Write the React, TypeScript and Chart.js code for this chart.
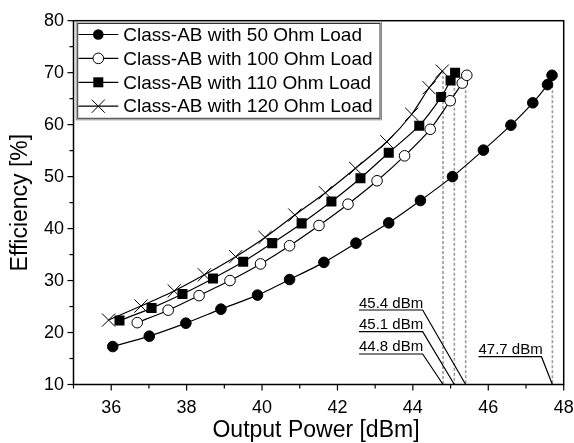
import React, { useEffect, useRef } from 'react';
import { Chart, registerables } from 'chart.js';

Chart.register(...registerables);

const FONT = '"Liberation Sans", Arial, Helvetica, sans-serif';

const seriesNames = [
  'Class-AB with 50 Ohm Load',
  'Class-AB with 100 Ohm Load',
  'Class-AB with 110 Ohm Load',
  'Class-AB with 120 Ohm Load',
];

const pout50 = [36.04, 37.01, 37.98, 38.91, 39.88, 40.73, 41.64, 42.49, 43.36, 44.2, 45.05, 45.87, 46.6, 47.18, 47.57, 47.69];
const eff50 = [17.3, 19.3, 21.8, 24.5, 27.2, 30.2, 33.5, 37.2, 41.1, 45.4, 50.0, 55.1, 59.9, 64.2, 67.7, 69.5];

const pout100 = [36.69, 37.51, 38.33, 39.15, 39.96, 40.73, 41.51, 42.28, 43.05, 43.78, 44.46, 44.99, 45.31, 45.43];
const eff100 = [21.9, 24.3, 27.1, 30.0, 33.2, 36.7, 40.6, 44.7, 49.2, 54.0, 59.1, 64.6, 68.0, 69.5];

const pout110 = [36.22, 37.07, 37.89, 38.7, 39.5, 40.27, 41.05, 41.84, 42.61, 43.36, 44.17, 44.75, 45.0, 45.12];
const eff110 = [22.3, 24.7, 27.4, 30.4, 33.6, 37.2, 41.0, 45.2, 49.7, 54.6, 59.8, 65.3, 68.5, 70.0];

const pout120 = [35.93, 36.79, 37.67, 38.47, 39.3, 40.08, 40.87, 41.68, 42.48, 43.31, 43.97, 44.43, 44.78];
const eff120 = [22.4, 25.1, 28.0, 31.1, 34.6, 38.3, 42.6, 46.9, 51.6, 56.7, 62.0, 67.1, 70.3];

// saturated output power annotations
const satPower = [44.8, 45.1, 45.4, 47.7];
const satTopEff = [70.3, 70.0, 69.5, 69.5];
const satLabels = ['44.8 dBm', '45.1 dBm', '45.4 dBm', '47.7 dBm'];
// label shelf positions (data units): start x, end x, shelf y
const shelfStart = [42.57, 42.57, 42.57, 45.74];
const shelfEnd = [44.26, 44.26, 44.26, 47.41];
const shelfEff = [15.87, 20.16, 24.33, 15.35];

const xMin = 35;
const xMax = 48;
const yMin = 10;
const yMax = 80;
const xTickLabels = [36, 38, 40, 42, 44, 46, 48];
const yTickLabels = [10, 20, 30, 40, 50, 60, 70, 80];

const xTitle = 'Output Power [dBm]';
const yTitle = 'Efficiency [%]';

const toPts = (xs: number[], ys: number[]) => xs.map((x, i) => ({ x, y: ys[i] }));

type Marker = 'fillCircle' | 'openCircle' | 'square' | 'cross';
const markers: Marker[] = ['fillCircle', 'openCircle', 'square', 'cross'];

function drawMarker(ctx: CanvasRenderingContext2D, m: Marker, x: number, y: number) {
  ctx.save();
  ctx.strokeStyle = '#000';
  ctx.fillStyle = '#000';
  ctx.lineWidth = 1;
  if (m === 'fillCircle') {
    ctx.beginPath();
    ctx.arc(x, y, 5.3, 0, Math.PI * 2);
    ctx.fill();
  } else if (m === 'openCircle') {
    ctx.beginPath();
    ctx.arc(x, y, 5.3, 0, Math.PI * 2);
    ctx.fillStyle = '#fff';
    ctx.fill();
    ctx.stroke();
  } else if (m === 'square') {
    ctx.fillRect(x - 5, y - 5, 10, 10);
  } else {
    const d = 6.6;
    ctx.beginPath();
    ctx.moveTo(x - d, y - d);
    ctx.lineTo(x + d, y + d);
    ctx.moveTo(x - d, y + d);
    ctx.lineTo(x + d, y - d);
    ctx.stroke();
  }
  ctx.restore();
}

const framePlugin = {
  id: 'frameAndExtras',
  beforeDatasetsDraw(chart: any) {
    const { ctx, scales } = chart;
    const xs = scales.x;
    const ys = scales.y;
    ctx.save();
    ctx.strokeStyle = '#9a9a9a';
    ctx.lineWidth = 1.6;
    ctx.setLineDash([3, 2]);
    satPower.forEach((p, i) => {
      const px = xs.getPixelForValue(p);
      ctx.beginPath();
      ctx.moveTo(px, ys.getPixelForValue(satTopEff[i]));
      ctx.lineTo(px, ys.getPixelForValue(yMin));
      ctx.stroke();
    });
    ctx.restore();
  },
  afterDraw(chart: any) {
    const { ctx, chartArea, scales } = chart;
    const xs = scales.x;
    const ys = scales.y;
    const { left, right, top, bottom } = chartArea;
    ctx.save();
    // frame
    ctx.strokeStyle = '#000';
    ctx.lineWidth = 1.5;
    ctx.strokeRect(left, top, right - left, bottom - top);
    // ticks
    ctx.lineWidth = 1.2;
    for (let v = xMin; v <= xMax; v += 1) {
      const px = xs.getPixelForValue(v);
      const len = v % 2 === 0 ? 6 : 4;
      ctx.beginPath();
      ctx.moveTo(px, bottom);
      ctx.lineTo(px, bottom + len);
      ctx.stroke();
    }
    for (let v = yMin; v <= yMax; v += 5) {
      const py = ys.getPixelForValue(v);
      const len = v % 10 === 0 ? 6 : 4;
      ctx.beginPath();
      ctx.moveTo(left, py);
      ctx.lineTo(left - len, py);
      ctx.stroke();
    }
    // tick labels
    ctx.fillStyle = '#000';
    ctx.font = `18px ${FONT}`;
    ctx.textAlign = 'center';
    ctx.textBaseline = 'middle';
    xTickLabels.forEach((v) => {
      ctx.fillText(String(v), xs.getPixelForValue(v), bottom + 24);
    });
    ctx.textAlign = 'right';
    yTickLabels.forEach((v) => {
      ctx.fillText(String(v), left - 9.5, ys.getPixelForValue(v) + 0.5);
    });

    // axis titles
    ctx.font = `23px ${FONT}`;
    ctx.textAlign = 'center';
    ctx.textBaseline = 'middle';
    ctx.fillText(xTitle, 316, 430.5);
    ctx.save();
    ctx.translate(21, (top + bottom) / 2);
    ctx.rotate(-Math.PI / 2);
    ctx.fillText(yTitle, 0, 0);
    ctx.restore();

    // annotation labels with leader lines
    ctx.lineWidth = 1.2;
    ctx.strokeStyle = '#000';
    ctx.font = `15px ${FONT}`;
    ctx.textAlign = 'left';
    ctx.textBaseline = 'alphabetic';
    satPower.forEach((p, i) => {
      const sx = xs.getPixelForValue(shelfStart[i]);
      const ex = xs.getPixelForValue(shelfEnd[i]);
      const sy = ys.getPixelForValue(shelfEff[i]);
      ctx.beginPath();
      ctx.moveTo(sx, sy);
      ctx.lineTo(ex, sy);
      ctx.lineTo(xs.getPixelForValue(p), ys.getPixelForValue(yMin));
      ctx.stroke();
      ctx.fillText(satLabels[i], sx, sy - 2.5);
    });

    // legend
    const lx0 = 75.7;
    const ly0 = 21.5;
    const lx1 = 381;
    const ly1 = 119.3;
    ctx.strokeStyle = '#8a8a8a';
    ctx.lineWidth = 1;
    ctx.strokeRect(lx0 + 0.5, ly0 + 0.5, lx1 - lx0, ly1 - ly0);
    ctx.strokeStyle = '#333';
    ctx.strokeRect(lx0 + 2, ly0 + 2, lx1 - lx0 - 3, ly1 - ly0 - 3);
    ctx.font = `19px ${FONT}`;
    ctx.textBaseline = 'middle';
    ctx.fillStyle = '#000';
    seriesNames.forEach((name, i) => {
      const ry = 34.5 + i * 23.9;
      ctx.strokeStyle = '#000';
      ctx.lineWidth = 1.2;
      ctx.beginPath();
      ctx.moveTo(78.5, ry);
      ctx.lineTo(118.3, ry);
      ctx.stroke();
      drawMarker(ctx, markers[i], 98.3, ry);
      ctx.fillText(name, 123.3, ry + 1);
    });
    ctx.restore();
  },
};

const pointOpts = [
  { pointStyle: 'circle', pointRadius: 5.3, pointBackgroundColor: '#000', pointBorderColor: '#000', pointBorderWidth: 1 },
  { pointStyle: 'circle', pointRadius: 5.3, pointBackgroundColor: '#fff', pointBorderColor: '#000', pointBorderWidth: 1 },
  { pointStyle: 'rect', pointRadius: 7.1, pointBackgroundColor: '#000', pointBorderColor: '#000', pointBorderWidth: 0 },
  { pointStyle: 'crossRot', pointRadius: 9.3, pointBackgroundColor: '#000', pointBorderColor: '#000', pointBorderWidth: 1 },
];

export default function App() {
  const ref = useRef<HTMLCanvasElement | null>(null);
  useEffect(() => {
    if (!ref.current) return;
    const dataSets = [
      toPts(pout50, eff50),
      toPts(pout100, eff100),
      toPts(pout110, eff110),
      toPts(pout120, eff120),
    ];
    const chart = new Chart(ref.current, {
      type: 'line',
      data: {
        datasets: dataSets.map((d, i) => ({
          label: seriesNames[i],
          data: d,
          borderColor: '#000',
          borderWidth: 1.2,
          tension: 0.25,
          fill: false,
          ...pointOpts[i],
        })) as any,
      },
      options: {
        animation: false,
        responsive: false,
        events: [],
        layout: { padding: { left: 0, right: 8.3, top: 20.7, bottom: 0 } },
        plugins: { legend: { display: false }, tooltip: { enabled: false }, title: { display: false } },
        scales: {
          x: {
            type: 'linear',
            min: xMin,
            max: xMax,
            ticks: { display: false, stepSize: 1 },
            grid: { display: false, drawTicks: false },
            border: { display: false },
            afterFit: (s: any) => {
              s.height = 58.5;
              s.paddingLeft = 0;
              s.paddingRight = 0;
            },
          },
          y: {
            type: 'linear',
            min: yMin,
            max: yMax,
            ticks: { display: false, stepSize: 5 },
            grid: { display: false, drawTicks: false },
            border: { display: false },
            afterFit: (s: any) => {
              s.width = 73.5;
              s.paddingTop = 0;
              s.paddingBottom = 0;
            },
          },
        },
      },
      plugins: [framePlugin],
    });
    return () => chart.destroy();
  }, []);
  return (
    <div style={{ position: 'fixed', left: 0, top: 0, width: 574, height: 443, background: '#fff' }}>
      <canvas ref={ref} width={574} height={443} style={{ width: 574, height: 443, display: 'block' }} />
    </div>
  );
}
